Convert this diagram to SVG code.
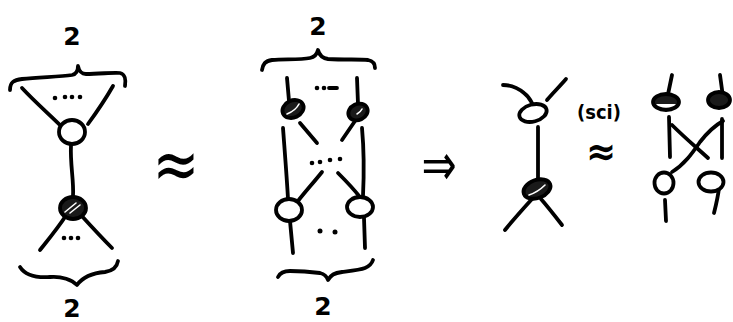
<svg xmlns="http://www.w3.org/2000/svg" width="733" height="322" viewBox="0 0 733 322">
<style>
.s{fill:none;stroke:#000;stroke-width:3.8;stroke-linecap:round;stroke-linejoin:round}
.w{fill:#fff;stroke:#000;stroke-width:3.8}
.d{fill:#1a1a1a;stroke:#000;stroke-width:3.8}
.h{fill:none;stroke:#fff;stroke-width:1.6;stroke-linecap:round}
.dot{fill:#000}
.t{font-family:"DejaVu Sans",sans-serif;fill:#000}
</style>
<rect width="733" height="322" fill="#fff"/>
<g id="connectors">
  <path class="s" d="M10,90 C10,82 14,80 22,79 C40,77 60,77 72,75 C77,74 78,70 78,66 C79,71 81,74 86,74 C100,74 115,72 120,73 C125,74 126,80 125,86"/>
  <path class="s" d="M22,88 C35,102 50,115 62,127"/>
  <path class="s" d="M113,86 C105,100 96,113 88,124"/>
  <path class="s" d="M71,145 C70,165 74,180 73,196"/>
  <path class="s" d="M67,214 C58,228 48,240 40,250"/>
  <path class="s" d="M80,214 C90,225 102,238 112,248"/>
  <path class="s" d="M20,267 C25,275 35,278 50,277 C62,276 72,280 77,285 C82,278 92,273 105,272 C112,271 117,267 118,261"/>
  <path class="s" d="M262,70 C263,64 265,61 272,60 C285,59 300,60 310,58 C315,57 317,54 318,50 C319,54 321,58 328,59 C345,60 360,59 368,60 C373,61 375,64 375,68"/>
  <path class="s" d="M287,78 L289,101"/>
  <path class="s" d="M357,78 L358,104"/>
  <path class="s" d="M300,123 L317,143"/>
  <path class="s" d="M355,121 L342,140"/>
  <path class="s" d="M283,128 C285,155 287,180 288,199"/>
  <path class="s" d="M362,128 C364,150 364,175 363,196"/>
  <path class="s" d="M322,172 C314,182 305,192 298,201"/>
  <path class="s" d="M338,173 C345,180 353,188 359,196"/>
  <path class="s" d="M290,221 L293,253"/>
  <path class="s" d="M364,218 L365,248"/>
  <path class="s" d="M278,277 C280,273 283,271 290,271 C300,271 312,272 320,273 C324,274 327,277 328,280 C331,275 334,273 342,272 C350,271 360,270 365,268 C370,266 372,263 373,260"/>
  <path class="s" d="M503,85 C510,85 518,88 524,93 C528,96 530,99 532,103"/>
  <path class="s" d="M566,79 C560,86 553,93 547,100"/>
  <path class="s" d="M538,127 L538,180"/>
  <path class="s" d="M532,199 C522,210 513,220 505,230"/>
  <path class="s" d="M541,199 C548,207 555,216 562,225"/>
  <path class="s" d="M672,75 L667,99"/>
  <path class="s" d="M720,75 C721,82 722,90 723,97"/>
  <path class="s" d="M669,117 L670,157"/>
  <path class="s" d="M672,125 C684,137 697,148 708,158"/>
  <path class="s" d="M722,119 L722,158"/>
  <path class="s" d="M723,121 C714,126 707,133 700,142 C693,152 685,164 672,172"/>
  <path class="s" d="M719,188 C718,197 716,205 714,213"/>
  <path class="s" d="M665,200 L666,221"/>
</g>
<g id="dots">
  <circle class="dot" cx="55" cy="98" r="2.3"/><circle class="dot" cx="65" cy="97" r="2.3"/><circle class="dot" cx="72" cy="97" r="2.3"/><circle class="dot" cx="80" cy="97" r="2.3"/>
  <circle class="dot" cx="64" cy="238" r="2.3"/><circle class="dot" cx="71" cy="238" r="2.3"/><circle class="dot" cx="78" cy="238" r="2.3"/>
  <circle class="dot" cx="317" cy="88" r="2.3"/><circle class="dot" cx="324" cy="88" r="2.3"/><path class="s" d="M329,88 L337,88"/>
  <circle class="dot" cx="312" cy="163" r="2.3"/><circle class="dot" cx="320" cy="162" r="2.3"/><circle class="dot" cx="330" cy="160" r="2.3"/><circle class="dot" cx="340" cy="159" r="2.3"/>
  <circle class="dot" cx="320" cy="231" r="2.5"/><circle class="dot" cx="335" cy="232" r="2.5"/>
</g>
<g id="node-l-top"><ellipse class="w" cx="72" cy="132" rx="13" ry="12"/></g>
<g id="node-l-bot"><ellipse class="d" cx="73" cy="208" rx="13" ry="11"/><path class="h" d="M65,212 L76,203 M70,213 L80,205"/></g>
<g id="node-m-tl"><ellipse class="d" cx="293" cy="109" rx="11" ry="8.5" transform="rotate(-25 293 109)"/><path class="h" d="M287,114 C292,112 297,108 299,104"/></g>
<g id="node-m-tr"><ellipse class="d" cx="358" cy="112" rx="10" ry="8" transform="rotate(-25 358 112)"/><path class="h" d="M357,114 C359,113 361,111 362,109"/></g>
<g id="node-m-bl"><ellipse class="w" cx="289" cy="210" rx="13" ry="11"/></g>
<g id="node-m-br"><ellipse class="w" cx="360" cy="207" rx="13" ry="10"/></g>
<g id="node-r-top"><ellipse class="w" cx="533" cy="113" rx="14" ry="8.5" transform="rotate(-15 533 113)"/></g>
<g id="node-r-bot"><ellipse class="d" cx="537" cy="189" rx="14" ry="9" transform="rotate(-20 537 189)"/><path class="h" d="M529,195 C535,193 541,189 545,185"/></g>
<g id="node-rr-tl"><ellipse class="d" cx="666" cy="102" rx="13" ry="8"/><path d="M656,104 C660,109 672,109 676,104 Z" fill="#fff"/></g>
<g id="node-rr-tr"><ellipse class="d" cx="719" cy="100" rx="11" ry="8"/></g>
<g id="node-rr-bl"><ellipse class="w" cx="664" cy="183" rx="9.5" ry="10.5"/></g>
<g id="node-rr-br"><ellipse class="w" cx="711" cy="182" rx="12.5" ry="9.5"/></g>
<g id="labels">
  <text class="t" x="72" y="45" font-size="25" font-weight="bold" text-anchor="middle">2</text>
  <text class="t" x="72" y="317" font-size="25" font-weight="bold" text-anchor="middle">2</text>
  <text class="t" x="318" y="35" font-size="25" font-weight="bold" text-anchor="middle">2</text>
  <text class="t" x="323" y="315" font-size="25" font-weight="bold" text-anchor="middle">2</text>
  <text class="t" x="577" y="119" font-size="20" font-weight="bold" textLength="44" lengthAdjust="spacingAndGlyphs">(sci)</text>
  <text class="t" x="0" y="0" font-size="56" text-anchor="middle" transform="translate(176,189) scale(1,1.3)">≈</text>
  <text class="t" x="0" y="0" font-size="36" font-weight="bold" text-anchor="middle" transform="translate(601,165) scale(1,1.1)">≈</text>
  <text class="t" x="0" y="0" font-size="42" text-anchor="middle" transform="translate(439,185) scale(1,1.4)">⇒</text>
</g>
</svg>
